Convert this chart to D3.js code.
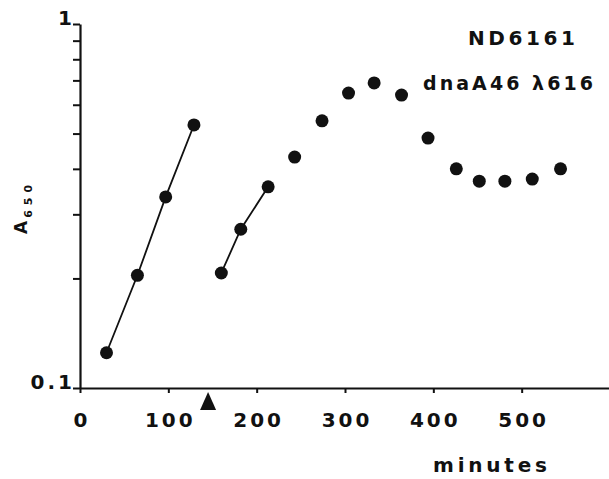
<!DOCTYPE html>
<html>
<head>
<meta charset="utf-8">
<script src="https://cdn.jsdelivr.net/npm/d3@7"></script>
<style>
body { margin: 0; background: #fff; }
svg text { font-family: "DejaVu Sans", "Liberation Sans", Arial, sans-serif; font-weight: bold; fill: #111; }
</style>
</head>
<body>
<div class="chart"></div>
<script>
// values (minutes, A650)
const earlyMinutes = [30, 65, 97, 129];
const earlyA650 = [0.125, 0.204, 0.335, 0.528];
const lateMinutes = [160, 182, 213];
const lateA650 = [0.207, 0.273, 0.357];
const dotMinutes = [243, 274, 304, 333, 364, 394, 426, 452, 481, 512, 544];
const dotA650 = [0.431, 0.542, 0.646, 0.689, 0.638, 0.486, 0.400, 0.370, 0.370, 0.375, 0.400];

const xTicks = [0, 100, 200, 300, 400, 500];
const yTicks = [0.1, 0.2, 0.3, 0.4, 0.5, 0.6, 0.7, 0.8, 0.9, 1];
const yTickLabels = ["0.1", "1"];
const arrowMinute = 145;
const titleLines = ["ND6161", "dnaA46 λ616"];

const W = 609, H = 479;
const margin = { top: 24, right: 0, bottom: 91, left: 80 };
const fontFam = "'DejaVu Sans', 'Liberation Sans', Arial, sans-serif";

const svg = d3.select(".chart")
  .append("svg")
  .attr("width", W)
  .attr("height", H);

const x = d3.scaleLinear().domain([0, 600]).range([margin.left, 610]);
const y = d3.scaleLog().domain([0.1, 1]).range([H - margin.bottom, margin.top]);

const zip = (xs, ys) => xs.map((m, i) => ({ m: m, a: ys[i] }));
const early = zip(earlyMinutes, earlyA650);
const late = zip(lateMinutes, lateA650);
const dots = zip(dotMinutes, dotA650);

// y axis
const yAxis = svg.append("g")
  .attr("transform", `translate(${margin.left},0)`)
  .call(d3.axisLeft(y).tickValues(yTicks).tickSize(7).tickSizeOuter(0)
    .tickFormat(d => yTickLabels.includes(String(d)) ? String(d) : ""));
yAxis.select(".domain").attr("stroke", "#111").attr("stroke-width", 2.2);
yAxis.selectAll(".tick line").attr("stroke", "#111").attr("stroke-width", 2);
yAxis.selectAll(".tick text")
  .attr("x", -8)
  .attr("dy", "0")
  .attr("font-size", 20)
  .attr("letter-spacing", "3px")
  .attr("dx", 3)
  .style("font-family", fontFam)
  .style("font-weight", "bold")
  .attr("fill", "#111");

// x axis
const xAxis = svg.append("g")
  .attr("transform", `translate(0,${y(0.1)})`)
  .call(d3.axisBottom(x).tickValues(xTicks).tickSize(5).tickSizeOuter(0));
xAxis.select(".domain").attr("stroke", "#111").attr("stroke-width", 2.2);
xAxis.selectAll(".tick line").attr("stroke", "#111").attr("stroke-width", 2);
xAxis.selectAll(".tick text")
  .attr("y", 39)
  .attr("dy", "0")
  .attr("dx", 1.5)
  .attr("font-size", 20)
  .attr("letter-spacing", "3px")
  .style("font-family", fontFam)
  .style("font-weight", "bold")
  .attr("fill", "#111");

// arrow marker under the axis
const ax = x(arrowMinute), ay = y(0.1) + 4;
svg.append("path")
  .attr("d", `M${ax},${ay} L${ax - 8},${ay + 18} L${ax + 8},${ay + 18} Z`)
  .attr("fill", "#111");

// axis titles
svg.append("text")
  .attr("x", 433).attr("y", 472)
  .attr("font-size", 20)
  .attr("textLength", 114)
  .attr("lengthAdjust", "spacing")
  .text("minutes");

const yTitle = svg.append("text")
  .attr("transform", "translate(27,234) rotate(-90)")
  .attr("font-size", 17);
yTitle.append("tspan").text("A");
yTitle.append("tspan")
  .attr("dy", 5).attr("dx", 3)
  .attr("font-size", 11)
  .attr("letter-spacing", "5px")
  .text("650");

// legend text
svg.append("text")
  .attr("x", 468).attr("y", 45)
  .attr("font-size", 20)
  .attr("textLength", 107)
  .attr("lengthAdjust", "spacing")
  .text(titleLines[0]);
svg.append("text")
  .attr("x", 423).attr("y", 90)
  .attr("font-size", 19)
  .attr("textLength", 170)
  .attr("lengthAdjust", "spacing")
  .text(titleLines[1]);

// lines and points
const line = d3.line().x(d => x(d.m)).y(d => y(d.a));
[early, late].forEach(s => {
  svg.append("path")
    .datum(s)
    .attr("d", line)
    .attr("fill", "none")
    .attr("stroke", "#111")
    .attr("stroke-width", 1.8);
});

svg.selectAll("circle.pt")
  .data(early.concat(late, dots))
  .join("circle")
  .attr("class", "pt")
  .attr("cx", d => x(d.m))
  .attr("cy", d => y(d.a))
  .attr("r", 6.5)
  .attr("fill", "#111");
</script>
</body>
</html>
